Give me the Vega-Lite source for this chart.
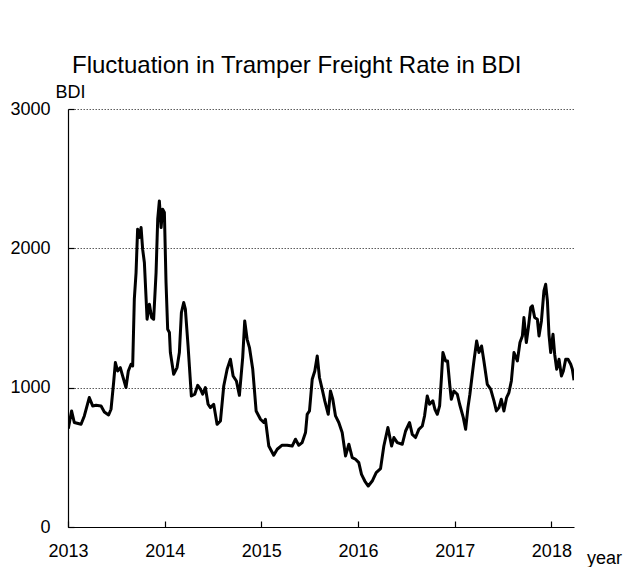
{
  "$schema": "https://vega.github.io/schema/vega-lite/v6.json",
  "autosize": "none",
  "padding": {"left": 68, "top": 109, "right": 51, "bottom": 40},
  "width": 506,
  "height": 418,
  "background": "white",
  "title": {
    "text": "Fluctuation in Tramper Freight Rate in BDI",
    "anchor": "start",
    "frame": "group",
    "dx": 4,
    "dy": 24,
    "offset": 10,
    "baseline": "alphabetic",
    "font": "Liberation Sans",
    "fontSize": 24,
    "fontWeight": "normal",
    "color": "black"
  },
  "config": {
    "view": {"stroke": null},
    "axis": {
      "labelFont": "Liberation Sans",
      "labelFontSize": 18,
      "labelColor": "black",
      "titleFont": "Liberation Sans",
      "titleFontSize": 18,
      "titleFontWeight": "normal",
      "titleColor": "black",
      "domainColor": "black",
      "domainWidth": 1.2,
      "tickColor": "black",
      "tickWidth": 1.2
    }
  },
  "data": {
    "values": [
      {"year": 2013.003, "bdi": 706},
      {"year": 2013.037, "bdi": 833},
      {"year": 2013.065, "bdi": 750},
      {"year": 2013.135, "bdi": 737},
      {"year": 2013.169, "bdi": 797},
      {"year": 2013.220, "bdi": 929},
      {"year": 2013.255, "bdi": 869},
      {"year": 2013.290, "bdi": 874},
      {"year": 2013.342, "bdi": 869},
      {"year": 2013.376, "bdi": 826},
      {"year": 2013.420, "bdi": 804},
      {"year": 2013.445, "bdi": 845},
      {"year": 2013.472, "bdi": 1037},
      {"year": 2013.490, "bdi": 1180},
      {"year": 2013.513, "bdi": 1120},
      {"year": 2013.541, "bdi": 1144},
      {"year": 2013.565, "bdi": 1084},
      {"year": 2013.600, "bdi": 1001},
      {"year": 2013.624, "bdi": 1120},
      {"year": 2013.652, "bdi": 1168},
      {"year": 2013.669, "bdi": 1156},
      {"year": 2013.686, "bdi": 1635},
      {"year": 2013.704, "bdi": 1826},
      {"year": 2013.720, "bdi": 2137},
      {"year": 2013.738, "bdi": 2078},
      {"year": 2013.756, "bdi": 2149},
      {"year": 2013.772, "bdi": 1994},
      {"year": 2013.790, "bdi": 1898},
      {"year": 2013.818, "bdi": 1491},
      {"year": 2013.842, "bdi": 1599},
      {"year": 2013.865, "bdi": 1503},
      {"year": 2013.886, "bdi": 1491},
      {"year": 2013.911, "bdi": 1826},
      {"year": 2013.928, "bdi": 2209},
      {"year": 2013.945, "bdi": 2340},
      {"year": 2013.963, "bdi": 2149},
      {"year": 2013.979, "bdi": 2281},
      {"year": 2013.997, "bdi": 2257},
      {"year": 2014.014, "bdi": 1755},
      {"year": 2014.031, "bdi": 1419},
      {"year": 2014.049, "bdi": 1396},
      {"year": 2014.059, "bdi": 1252},
      {"year": 2014.093, "bdi": 1096},
      {"year": 2014.128, "bdi": 1144},
      {"year": 2014.152, "bdi": 1252},
      {"year": 2014.173, "bdi": 1539},
      {"year": 2014.197, "bdi": 1611},
      {"year": 2014.214, "bdi": 1563},
      {"year": 2014.242, "bdi": 1299},
      {"year": 2014.276, "bdi": 940},
      {"year": 2014.311, "bdi": 953},
      {"year": 2014.342, "bdi": 1017},
      {"year": 2014.370, "bdi": 989},
      {"year": 2014.393, "bdi": 953},
      {"year": 2014.421, "bdi": 1001},
      {"year": 2014.449, "bdi": 881},
      {"year": 2014.473, "bdi": 857},
      {"year": 2014.507, "bdi": 881},
      {"year": 2014.542, "bdi": 737},
      {"year": 2014.577, "bdi": 761},
      {"year": 2014.611, "bdi": 1012},
      {"year": 2014.646, "bdi": 1132},
      {"year": 2014.680, "bdi": 1204},
      {"year": 2014.708, "bdi": 1084},
      {"year": 2014.742, "bdi": 1048},
      {"year": 2014.773, "bdi": 945},
      {"year": 2014.807, "bdi": 1216},
      {"year": 2014.828, "bdi": 1479},
      {"year": 2014.853, "bdi": 1347},
      {"year": 2014.877, "bdi": 1288},
      {"year": 2014.911, "bdi": 1132},
      {"year": 2014.946, "bdi": 833},
      {"year": 2014.991, "bdi": 773},
      {"year": 2015.025, "bdi": 750},
      {"year": 2015.042, "bdi": 773},
      {"year": 2015.077, "bdi": 581},
      {"year": 2015.128, "bdi": 515},
      {"year": 2015.164, "bdi": 558},
      {"year": 2015.215, "bdi": 587},
      {"year": 2015.267, "bdi": 587},
      {"year": 2015.319, "bdi": 581},
      {"year": 2015.353, "bdi": 630},
      {"year": 2015.387, "bdi": 587},
      {"year": 2015.422, "bdi": 606},
      {"year": 2015.457, "bdi": 678},
      {"year": 2015.474, "bdi": 809},
      {"year": 2015.498, "bdi": 833},
      {"year": 2015.526, "bdi": 1060},
      {"year": 2015.553, "bdi": 1120},
      {"year": 2015.578, "bdi": 1228},
      {"year": 2015.601, "bdi": 1073},
      {"year": 2015.629, "bdi": 989},
      {"year": 2015.656, "bdi": 905},
      {"year": 2015.692, "bdi": 809},
      {"year": 2015.715, "bdi": 976},
      {"year": 2015.739, "bdi": 917},
      {"year": 2015.767, "bdi": 797},
      {"year": 2015.801, "bdi": 750},
      {"year": 2015.836, "bdi": 678},
      {"year": 2015.871, "bdi": 510},
      {"year": 2015.905, "bdi": 594},
      {"year": 2015.940, "bdi": 498},
      {"year": 2015.974, "bdi": 486},
      {"year": 2016.008, "bdi": 462},
      {"year": 2016.036, "bdi": 378},
      {"year": 2016.070, "bdi": 330},
      {"year": 2016.106, "bdi": 294},
      {"year": 2016.147, "bdi": 330},
      {"year": 2016.188, "bdi": 391},
      {"year": 2016.233, "bdi": 419},
      {"year": 2016.267, "bdi": 581},
      {"year": 2016.309, "bdi": 714},
      {"year": 2016.347, "bdi": 581},
      {"year": 2016.371, "bdi": 642},
      {"year": 2016.406, "bdi": 606},
      {"year": 2016.458, "bdi": 594},
      {"year": 2016.492, "bdi": 689},
      {"year": 2016.533, "bdi": 750},
      {"year": 2016.561, "bdi": 665},
      {"year": 2016.595, "bdi": 642},
      {"year": 2016.629, "bdi": 701},
      {"year": 2016.665, "bdi": 725},
      {"year": 2016.688, "bdi": 797},
      {"year": 2016.716, "bdi": 940},
      {"year": 2016.740, "bdi": 881},
      {"year": 2016.774, "bdi": 905},
      {"year": 2016.795, "bdi": 845},
      {"year": 2016.820, "bdi": 809},
      {"year": 2016.844, "bdi": 869},
      {"year": 2016.864, "bdi": 1084},
      {"year": 2016.878, "bdi": 1252},
      {"year": 2016.906, "bdi": 1192},
      {"year": 2016.926, "bdi": 1192},
      {"year": 2016.950, "bdi": 1012},
      {"year": 2016.965, "bdi": 917},
      {"year": 2016.992, "bdi": 976},
      {"year": 2017.027, "bdi": 953},
      {"year": 2017.051, "bdi": 881},
      {"year": 2017.089, "bdi": 785},
      {"year": 2017.113, "bdi": 701},
      {"year": 2017.137, "bdi": 857},
      {"year": 2017.157, "bdi": 953},
      {"year": 2017.182, "bdi": 1096},
      {"year": 2017.199, "bdi": 1192},
      {"year": 2017.227, "bdi": 1335},
      {"year": 2017.251, "bdi": 1252},
      {"year": 2017.278, "bdi": 1299},
      {"year": 2017.302, "bdi": 1192},
      {"year": 2017.337, "bdi": 1024},
      {"year": 2017.372, "bdi": 989},
      {"year": 2017.406, "bdi": 905},
      {"year": 2017.431, "bdi": 833},
      {"year": 2017.458, "bdi": 857},
      {"year": 2017.482, "bdi": 917},
      {"year": 2017.509, "bdi": 833},
      {"year": 2017.537, "bdi": 929},
      {"year": 2017.561, "bdi": 965},
      {"year": 2017.586, "bdi": 1048},
      {"year": 2017.613, "bdi": 1252},
      {"year": 2017.648, "bdi": 1192},
      {"year": 2017.675, "bdi": 1324},
      {"year": 2017.700, "bdi": 1371},
      {"year": 2017.716, "bdi": 1503},
      {"year": 2017.741, "bdi": 1324},
      {"year": 2017.762, "bdi": 1432},
      {"year": 2017.786, "bdi": 1575},
      {"year": 2017.803, "bdi": 1587},
      {"year": 2017.827, "bdi": 1503},
      {"year": 2017.855, "bdi": 1491},
      {"year": 2017.872, "bdi": 1371},
      {"year": 2017.897, "bdi": 1479},
      {"year": 2017.923, "bdi": 1694},
      {"year": 2017.941, "bdi": 1742},
      {"year": 2017.959, "bdi": 1622},
      {"year": 2017.975, "bdi": 1383},
      {"year": 2017.993, "bdi": 1252},
      {"year": 2018.017, "bdi": 1383},
      {"year": 2018.034, "bdi": 1240},
      {"year": 2018.055, "bdi": 1132},
      {"year": 2018.079, "bdi": 1204},
      {"year": 2018.104, "bdi": 1084},
      {"year": 2018.124, "bdi": 1120},
      {"year": 2018.148, "bdi": 1204},
      {"year": 2018.172, "bdi": 1204},
      {"year": 2018.200, "bdi": 1168},
      {"year": 2018.217, "bdi": 1132},
      {"year": 2018.234, "bdi": 1053}
    ]
  },
  "mark": {"type": "line", "color": "black", "strokeWidth": 3, "strokeJoin": "round", "clip": true},
  "encoding": {
    "x": {
      "field": "year",
      "type": "quantitative",
      "scale": {"domain": [2013, 2018.234], "nice": false, "zero": false},
      "axis": {
        "values": [2013, 2014, 2015, 2016, 2017, 2018],
        "format": "d",
        "grid": false,
        "tickSize": -6,
        "labelPadding": 21,
        "labelFlush": false,
        "labelOverlap": false,
        "title": "year",
        "titleX": 536,
        "titleY": 36,
        "titleAlign": "center",
        "titleBaseline": "alphabetic"
      }
    },
    "y": {
      "field": "bdi",
      "type": "quantitative",
      "scale": {"domain": [0, 3000], "nice": false},
      "axis": {
        "values": [0, 1000, 2000, 3000],
        "format": "d",
        "grid": true,
        "gridColor": "#333333",
        "gridWidth": 0.8,
        "gridDash": [1.5, 1.5],
        "tickSize": -6,
        "labelPadding": 24,
        "labelOverlap": false,
        "title": "BDI",
        "titleAngle": 0,
        "titleX": 2,
        "titleY": -12,
        "titleAlign": "center",
        "titleBaseline": "alphabetic"
      }
    }
  }
}
